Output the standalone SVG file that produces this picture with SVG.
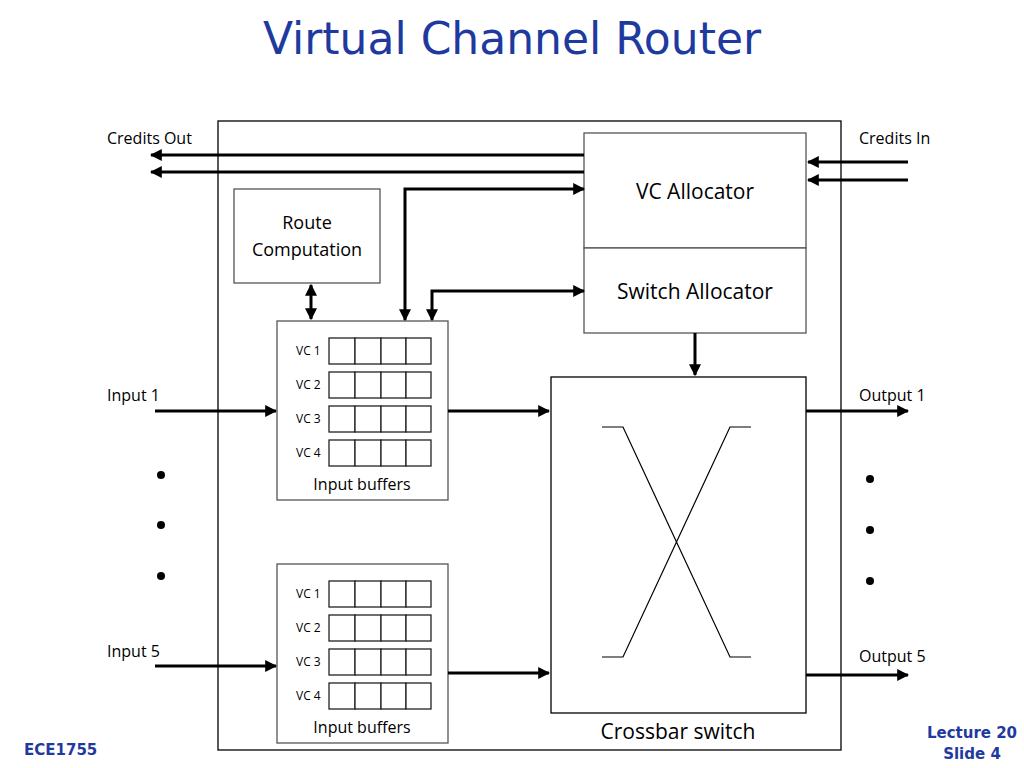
<svg xmlns="http://www.w3.org/2000/svg" width="1024" height="768" viewBox="0 0 1024 768">
<style>
text{font-family:"Open Sans","Liberation Sans",sans-serif;fill:#000}
.box{fill:#fff;stroke:#555;stroke-width:1.3}
.cell{fill:#fff;stroke:#222;stroke-width:1.3}
.ln{stroke:#000;stroke-width:3;fill:none}
.vc{font-size:12px}
.lbl{font-size:16px}
.dot{fill:#000}
.ft{font-family:"DejaVu Sans",sans-serif;font-size:15px;font-weight:bold;fill:#1f3a9e}
</style>
<defs>
<marker id="a" viewBox="0 0 10 10" refX="9" refY="5" markerWidth="4" markerHeight="4" orient="auto-start-reverse"><path d="M0,0L10,5L0,10z" fill="#000"/></marker>
</defs>
<rect width="1024" height="768" fill="#fff"/>
<text x="512" y="54" text-anchor="middle" style="font-family:'DejaVu Sans',sans-serif;font-size:44px;fill:#1f3a9e">Virtual Channel Router</text>
<rect x="218" y="121" width="623" height="629" fill="none" stroke="#000" stroke-width="1.3"/>
<g id="vcalloc"><rect class="box" x="584" y="133" width="222" height="115"/><text x="695" y="199" text-anchor="middle" style="font-size:21px">VC Allocator</text></g>
<g id="swalloc"><rect class="box" x="584" y="248" width="222" height="85"/><text x="695" y="299" text-anchor="middle" style="font-size:21px">Switch Allocator</text></g>
<g id="route"><rect class="box" x="234" y="189" width="146" height="94"/><text x="307" y="229" text-anchor="middle" style="font-size:18px">Route</text><text x="307" y="256" text-anchor="middle" style="font-size:18px">Computation</text></g>
<g id="buf1"><rect class="box" x="277" y="321" width="171" height="179"/>
<g class="cell"><rect x="329" y="338" width="26" height="26"/><rect x="355" y="338" width="26" height="26"/><rect x="381" y="338" width="25" height="26"/><rect x="406" y="338" width="25" height="26"/>
<rect x="329" y="372" width="26" height="26"/><rect x="355" y="372" width="26" height="26"/><rect x="381" y="372" width="25" height="26"/><rect x="406" y="372" width="25" height="26"/>
<rect x="329" y="406" width="26" height="26"/><rect x="355" y="406" width="26" height="26"/><rect x="381" y="406" width="25" height="26"/><rect x="406" y="406" width="25" height="26"/>
<rect x="329" y="440" width="26" height="26"/><rect x="355" y="440" width="26" height="26"/><rect x="381" y="440" width="25" height="26"/><rect x="406" y="440" width="25" height="26"/></g>
<text class="vc" x="296" y="355">VC 1</text><text class="vc" x="296" y="389">VC 2</text><text class="vc" x="296" y="423">VC 3</text><text class="vc" x="296" y="457">VC 4</text>
<text x="362" y="490" text-anchor="middle" class="lbl">Input buffers</text></g>
<g id="buf5"><rect class="box" x="277" y="564" width="171" height="179"/>
<g class="cell"><rect x="329" y="581" width="26" height="26"/><rect x="355" y="581" width="26" height="26"/><rect x="381" y="581" width="25" height="26"/><rect x="406" y="581" width="25" height="26"/>
<rect x="329" y="615" width="26" height="26"/><rect x="355" y="615" width="26" height="26"/><rect x="381" y="615" width="25" height="26"/><rect x="406" y="615" width="25" height="26"/>
<rect x="329" y="649" width="26" height="26"/><rect x="355" y="649" width="26" height="26"/><rect x="381" y="649" width="25" height="26"/><rect x="406" y="649" width="25" height="26"/>
<rect x="329" y="683" width="26" height="26"/><rect x="355" y="683" width="26" height="26"/><rect x="381" y="683" width="25" height="26"/><rect x="406" y="683" width="25" height="26"/></g>
<text class="vc" x="296" y="598">VC 1</text><text class="vc" x="296" y="632">VC 2</text><text class="vc" x="296" y="666">VC 3</text><text class="vc" x="296" y="700">VC 4</text>
<text x="362" y="733" text-anchor="middle" class="lbl">Input buffers</text></g>
<g id="crossbar"><rect x="551" y="377" width="255" height="336" fill="#fff" stroke="#000" stroke-width="1.3"/>
<path d="M602,427H623L730,657H751M751,427H730L623,657H602" fill="none" stroke="#000" stroke-width="1.2"/>
<text x="678" y="739" text-anchor="middle" style="font-size:21px">Crossbar switch</text></g>
<g id="labels">
<text x="107" y="144" class="lbl">Credits Out</text><text x="859" y="144" class="lbl">Credits In</text>
<text x="107" y="401" class="lbl">Input 1</text><text x="107" y="657" class="lbl">Input 5</text>
<text x="859" y="401" class="lbl">Output 1</text><text x="859" y="662" class="lbl">Output 5</text>
<circle class="dot" cx="161" cy="475" r="4"/><circle class="dot" cx="161" cy="525" r="4"/><circle class="dot" cx="161" cy="576" r="4"/>
<circle class="dot" cx="870" cy="479" r="4"/><circle class="dot" cx="870" cy="530" r="4"/><circle class="dot" cx="870" cy="581" r="4"/>
<text x="24" y="755" class="ft">ECE1755</text>
<text x="972" y="738" text-anchor="middle" class="ft">Lecture 20</text>
<text x="972" y="759" text-anchor="middle" class="ft">Slide 4</text>
</g>
<g id="connectors" class="ln">
<path class="ln" d="M584,155H151" marker-end="url(#a)"/>
<path class="ln" d="M584,172H151" marker-end="url(#a)"/>
<path class="ln" d="M908,162H808" marker-end="url(#a)"/>
<path class="ln" d="M908,180H808" marker-end="url(#a)"/>
<path class="ln" d="M584,189H405V320" marker-start="url(#a)" marker-end="url(#a)"/>
<path class="ln" d="M584,291H432V320" marker-start="url(#a)" marker-end="url(#a)"/>
<path class="ln" d="M311,285V319" marker-start="url(#a)" marker-end="url(#a)"/>
<path class="ln" d="M695,333V375" marker-end="url(#a)"/>
<path class="ln" d="M155,411H276" marker-end="url(#a)"/>
<path class="ln" d="M155,666H276" marker-end="url(#a)"/>
<path class="ln" d="M448,411H549" marker-end="url(#a)"/>
<path class="ln" d="M448,673H549" marker-end="url(#a)"/>
<path class="ln" d="M806,411H908" marker-end="url(#a)"/>
<path class="ln" d="M806,675H908" marker-end="url(#a)"/>
</g>
</svg>
